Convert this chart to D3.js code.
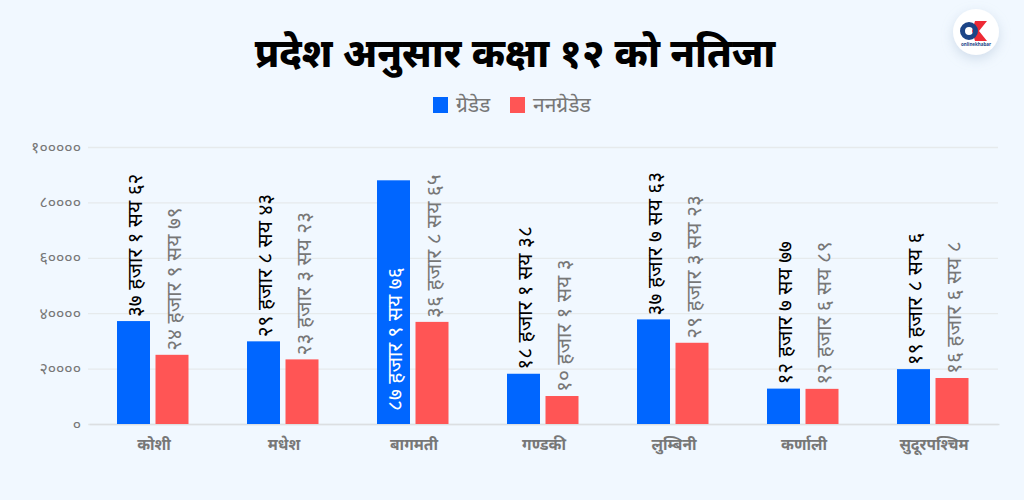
<!DOCTYPE html>
<html>
<head>
<meta charset="utf-8">
<script src="https://cdn.jsdelivr.net/npm/d3@7"></script>
<style>
body { margin: 0; background: #f1f8ff; }
svg { display: block; }
text { font-family: "Noto Sans", "Noto Sans Devanagari", sans-serif; }
</style>
</head>
<body>
<script>
var provinces = ["कोशी", "मधेश", "बागमती", "गण्डकी", "लुम्बिनी", "कर्णाली", "सुदूरपश्चिम"];
var graded = [37162, 29843, 87976, 18138, 37763, 12777, 19806];
var nonGraded = [24979, 23323, 36865, 10103, 29323, 12689, 16608];
var gradedLabels = ["३७ हजार १ सय ६२", "२९ हजार ८ सय ४३", "८७ हजार ९ सय ७६", "१८ हजार १ सय ३८", "३७ हजार ७ सय ६३", "१२ हजार ७ सय ७७", "१९ हजार ८ सय ६"];
var nonGradedLabels = ["२४ हजार ९ सय ७९", "२३ हजार ३ सय २३", "३६ हजार ८ सय ६५", "१० हजार १ सय ३", "२९ हजार ३ सय २३", "१२ हजार ६ सय ८९", "१६ हजार ६ सय ८"];
var tickValues = [0, 20000, 40000, 60000, 80000, 100000];
var tickLabels = ["०", "२००००", "४००००", "६००००", "८००००", "१०००००"];
var seriesNames = ["ग्रेडेड", "ननग्रेडेड"];

var blue = "#0066ff", red = "#ff5555", gray = "#777777";

var svg = d3.select("body").append("svg")
    .attr("width", 1024)
    .attr("height", 500);

var x = d3.scaleBand().domain(provinces).range([88, 998]);
var sub = d3.scaleBand().domain([0, 1]).range([29, 100.5]).paddingInner(0.143);
var y = d3.scaleLinear().domain([0, 100000]).range([424, 147]);

// grid and y axis
var yAxis = d3.axisLeft(y)
    .tickValues(tickValues)
    .tickFormat(function(d, i) { return tickLabels[i]; })
    .tickSize(-910)
    .tickPadding(7);
var yG = svg.append("g").attr("transform", "translate(88,0)").call(yAxis);
yG.select(".domain").remove();
yG.selectAll("line").attr("stroke", "#e6eaec").attr("stroke-width", 1.3);
yG.selectAll("text").attr("fill", gray).attr("font-size", 16);

// x axis
var xAxis = d3.axisBottom(x).tickSize(0).tickPadding(15);
var xG = svg.append("g").attr("transform", "translate(1,424)").call(xAxis);
xG.select(".domain").attr("stroke", "#dcdfe2").attr("stroke-width", 1.3);
xG.selectAll("text").attr("fill", gray).attr("font-size", 15.5).attr("font-weight", 700);

// bars + rotated labels
function drawSeries(values, labels, idx, color, textColor) {
    svg.selectAll(".bar" + idx).data(values).enter().append("rect")
        .attr("class", "bar" + idx)
        .attr("x", function(d, i) { return x(provinces[i]) + sub(idx); })
        .attr("y", function(d) { return y(d); })
        .attr("width", sub.bandwidth())
        .attr("height", function(d) { return y(0) - y(d); })
        .attr("fill", color);
    svg.selectAll(".label" + idx).data(values).enter().append("text")
        .attr("class", "label" + idx)
        .attr("transform", function(d, i) {
            var cx = x(provinces[i]) + sub(idx) + sub.bandwidth() / 2;
            var inside = d > 60000;
            var py = inside ? y(0) - 13 : y(d) - 4;
            return "translate(" + cx + "," + py + ") rotate(-90)";
        })
        .attr("dy", "0.42em")
        .attr("font-size", 21)
        .attr("fill", function(d) { return d > 60000 ? "#fff" : textColor; })
        .text(function(d, i) { return labels[i]; });
}
drawSeries(graded, gradedLabels, 0, blue, "#000");
drawSeries(nonGraded, nonGradedLabels, 1, red, gray);

// title
svg.append("text")
    .attr("x", 515).attr("y", 67)
    .attr("text-anchor", "middle")
    .attr("font-size", 39.3)
    .attr("font-weight", 800)
    .attr("fill", "#000")
    .text("प्रदेश अनुसार कक्षा १२ को नतिजा");

// legend
var legendX = [433, 510];
var legendG = svg.selectAll(".legend").data(seriesNames).enter().append("g")
    .attr("class", "legend")
    .attr("transform", function(d, i) { return "translate(" + legendX[i] + ",97)"; });
legendG.append("rect")
    .attr("width", 15).attr("height", 16)
    .attr("fill", function(d, i) { return i === 0 ? blue : red; });
legendG.append("text")
    .attr("x", 23).attr("y", 15)
    .attr("font-size", 21)
    .attr("fill", gray)
    .text(function(d) { return d; });

// logo badge
var defs = svg.append("defs");
var blur = defs.append("filter").attr("id", "shadow")
    .attr("x", "-50%").attr("y", "-50%").attr("width", "200%").attr("height", "200%");
blur.append("feDropShadow").attr("dx", 0).attr("dy", 4).attr("stdDeviation", 6)
    .attr("flood-color", "#9fb4cc").attr("flood-opacity", 0.4);
var logo = svg.append("g").attr("transform", "translate(976,32)");
logo.append("circle").attr("r", 23).attr("fill", "#fff").attr("filter", "url(#shadow)");
logo.append("path").attr("d", "M-1,-11 L11,-11 L3,-1 L11,9 L-1,9 L-4,-1 Z").attr("fill", "#ee2a35");
logo.append("circle").attr("cx", -7).attr("cy", -1).attr("r", 6.5).attr("fill", "none")
    .attr("stroke", "#1c4587").attr("stroke-width", 5);
logo.append("text").attr("x", 0).attr("y", 13.5).attr("text-anchor", "middle")
    .attr("font-size", 4.5).attr("font-weight", 700).attr("fill", "#1c4587")
    .text("onlinekhabar");
</script>
</body>
</html>
